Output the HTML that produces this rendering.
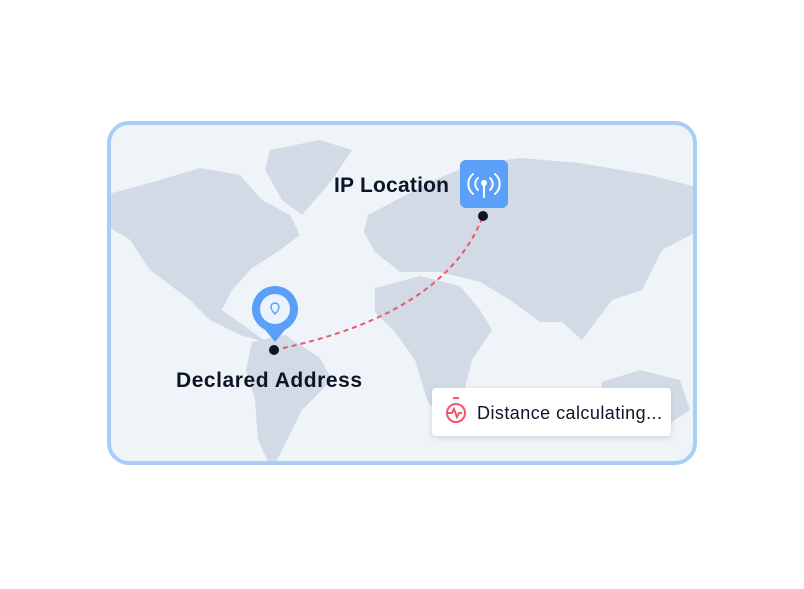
<!DOCTYPE html>
<html><head><style>
body{margin:0;width:804px;height:584px;background:#fff;overflow:hidden;font-family:"Liberation Sans",sans-serif}
</style></head><body>
<svg width="804" height="584" viewBox="0 0 804 584" xmlns="http://www.w3.org/2000/svg">
<defs>
<clipPath id="c"><rect x="109" y="123" width="586" height="340" rx="20"/></clipPath>
<filter id="s" x="-20%" y="-50%" width="140%" height="200%"><feDropShadow dx="0" dy="2" stdDeviation="3" flood-color="#7a8aa0" flood-opacity="0.3"/></filter>
</defs>
<rect x="109" y="123" width="586" height="340" rx="20" fill="#eff4f9"/>
<g clip-path="url(#c)" fill="#d2dbe5">
<polygon points="105,195 160,180 200,168 240,175 262,200 290,215 300,235 280,250 252,268 232,290 222,310 250,330 268,343 240,335 210,320 190,300 150,270 130,240 105,225"/>
<polygon points="270,150 320,140 352,150 332,180 302,215 282,200 265,170"/>
<polygon points="252,342 285,335 320,358 332,380 302,410 287,440 272,470 258,440 255,400 246,370"/>
<polygon points="368,215 400,198 430,182 470,165 520,158 580,163 650,175 700,188 700,230 662,250 642,290 612,300 582,340 562,322 540,322 510,300 480,282 440,272 400,272 375,252 364,232"/>
<polygon points="375,288 420,276 460,286 480,310 492,330 472,360 462,400 442,422 427,400 415,360 395,332 375,312"/>
<polygon points="602,382 640,370 680,380 690,410 660,430 620,420 600,400"/>
<polygon points="372,230 385,222 392,240 380,248"/>
</g>
<rect x="109" y="123" width="586" height="340" rx="20" fill="none" stroke="#a9cdf9" stroke-width="4"/>
<path d="M274,350 Q445,315 483,216" fill="none" stroke="#f0566a" stroke-width="2" stroke-dasharray="5,4"/>
<circle cx="274" cy="350" r="5" fill="#0c1526"/>
<circle cx="483" cy="216" r="5" fill="#0c1526"/>
<path d="M257,320 L275,342 L293,320 Z" fill="#5aa0f8"/>
<circle cx="275" cy="309" r="23" fill="#5aa0f8"/>
<circle cx="275" cy="309" r="15" fill="#eaf2fd"/>
<path d="M275,303 a4,4 0 0 1 4,4 c0,3 -4,7 -4,7 c0,0 -4,-4 -4,-7 a4,4 0 0 1 4,-4z" fill="none" stroke="#5aa0f8" stroke-width="1.4"/>
<rect x="460" y="160" width="48" height="48" rx="6" fill="#5aa0f8"/>
<g stroke="#fff" stroke-width="2" fill="none" stroke-linecap="round">
<line x1="484" y1="184" x2="484" y2="197"/>
<path d="M478,178 a8,8 0 0 0 0,12 M490,178 a8,8 0 0 1 0,12"/>
<path d="M473,174 a13,13 0 0 0 0,20 M495,174 a13,13 0 0 1 0,20"/>
</g>
<circle cx="484" cy="183" r="3" fill="#fff"/>
<text x="334" y="192" font-size="21" font-weight="600" fill="#0c1526" textLength="115">IP Location</text>
<text x="176" y="387" font-size="21" font-weight="600" fill="#0c1526" textLength="186">Declared Address</text>
<rect x="432" y="388" width="239" height="48" rx="4" fill="#fff" filter="url(#s)"/>
<g stroke="#f0566a" stroke-width="2" fill="none">
<circle cx="456" cy="413" r="9"/>
<line x1="453" y1="398" x2="459" y2="398"/>
<path d="M448,413 h4 l2,-4 l3,8 l2,-4 h3"/>
</g>
<text x="477" y="419" font-size="18" fill="#0c1526" textLength="185">Distance calculating...</text>
</svg>
</body></html>
